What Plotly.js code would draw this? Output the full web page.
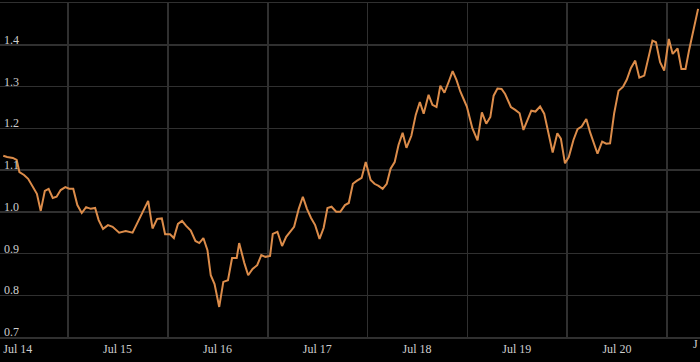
<!DOCTYPE html>
<html>
<head>
<meta charset="utf-8">
<script src="https://cdn.plot.ly/plotly-3.0.1.min.js"></script>
<style>html,body{margin:0;padding:0;background:#000;}#chart{width:700px;height:362px;}</style>
</head>
<body>
<div id="chart"></div>
<script>
const dates = [
"2014-05-09","2014-05-23","2014-06-13","2014-06-27","2014-07-07","2014-07-24","2014-08-08","2014-08-25","2014-09-09","2014-09-23",
"2014-10-08","2014-10-22","2014-11-06","2014-11-20","2014-12-05","2014-12-22",
"2015-01-05","2015-01-20","2015-02-04","2015-02-20","2015-03-08","2015-03-25","2015-04-10","2015-04-23","2015-05-09","2015-05-27",
"2015-06-13","2015-07-07","2015-07-31","2015-08-25","2015-09-08","2015-09-30","2015-10-21","2015-11-06","2015-11-23","2015-12-10","2015-12-22",
"2016-01-09","2016-01-23","2016-02-07","2016-02-22","2016-03-08","2016-03-25","2016-04-11","2016-04-25","2016-05-10","2016-05-25",
"2016-06-06","2016-06-20","2016-07-07","2016-07-22","2016-08-08","2016-08-23","2016-09-09","2016-09-18","2016-10-07","2016-10-21",
"2016-11-06","2016-11-23","2016-12-08","2016-12-23",
"2017-01-09","2017-01-19","2017-02-05","2017-02-22","2017-03-09","2017-03-24","2017-04-07","2017-04-24","2017-05-09","2017-05-24",
"2017-06-08","2017-06-23","2017-07-09","2017-07-24","2017-08-07","2017-08-22","2017-09-08","2017-09-23","2017-10-10","2017-10-24",
"2017-11-08","2017-11-22","2017-12-10","2017-12-25",
"2018-01-12","2018-01-26","2018-02-10","2018-02-25","2018-03-12","2018-03-26","2018-04-10","2018-04-24","2018-05-09","2018-05-23",
"2018-06-10","2018-06-26","2018-07-11","2018-07-25","2018-08-12","2018-08-26","2018-09-10","2018-09-24","2018-10-09","2018-10-25",
"2018-11-08","2018-11-22","2018-12-06","2018-12-18","2018-12-30",
"2019-01-19","2019-02-07","2019-02-23","2019-03-11","2019-03-26","2019-04-07","2019-04-21","2019-05-06","2019-05-19","2019-05-28",
"2019-06-09","2019-06-25","2019-07-11","2019-07-25","2019-08-09","2019-08-23","2019-09-07","2019-09-24","2019-10-09","2019-10-24",
"2019-11-09","2019-11-26","2019-12-09","2019-12-24",
"2020-01-07","2020-01-24","2020-02-08","2020-02-23","2020-03-11","2020-03-25","2020-04-07","2020-04-21","2020-05-08","2020-05-23",
"2020-06-06","2020-06-21","2020-07-07","2020-07-23","2020-08-06","2020-08-21","2020-09-06","2020-09-21","2020-10-09","2020-10-24",
"2020-11-08","2020-11-21","2020-12-06","2020-12-21",
"2021-01-07","2021-01-21","2021-02-08","2021-02-22","2021-03-09","2021-03-23","2021-04-07","2021-04-24"
];
const values = [
1.134,1.131,1.129,1.124,1.095,1.088,1.079,1.060,1.043,1.002,
1.050,1.055,1.033,1.036,1.052,1.059,
1.055,1.055,1.016,0.997,1.011,1.007,1.009,0.980,0.959,0.968,
0.964,0.950,0.954,0.950,0.968,0.997,1.026,0.960,0.983,0.984,0.946,
0.946,0.937,0.971,0.978,0.966,0.955,0.930,0.925,0.937,0.908,
0.848,0.827,0.772,0.832,0.836,0.889,0.889,0.925,0.877,0.848,
0.863,0.872,0.896,0.892,
0.894,0.947,0.952,0.918,0.940,0.952,0.964,1.007,1.036,1.007,
0.985,0.968,0.935,0.961,1.009,1.012,1.000,1.000,1.016,1.021,
1.067,1.074,1.081,1.119,
1.076,1.067,1.062,1.055,1.067,1.103,1.119,1.160,1.189,1.153,
1.182,1.232,1.263,1.235,1.280,1.256,1.251,1.302,1.285,1.312,
1.337,1.316,1.288,1.270,1.252,
1.200,1.171,1.238,1.211,1.227,1.278,1.295,1.294,1.282,1.268,
1.251,1.244,1.236,1.196,1.222,1.242,1.240,1.252,1.235,1.188,
1.142,1.188,1.175,1.116,
1.131,1.172,1.198,1.204,1.222,1.190,1.165,1.139,1.168,1.163,
1.164,1.236,1.290,1.299,1.316,1.344,1.362,1.321,1.326,1.366,
1.410,1.406,1.358,1.338,
1.414,1.378,1.391,1.342,1.342,1.390,1.436,1.486
];
const xTickVals = ["2014-07-01","2015-07-01","2016-07-01","2017-07-01","2018-07-01","2019-07-01","2020-07-01"];
const xTickText = ["Jul 14","Jul 15","Jul 16","Jul 17","Jul 18","Jul 19","Jul 20"];
const yTickVals = [0.7,0.8,0.9,1.0,1.1,1.2,1.3,1.4];
const yTickText = ["0.7","0.8","0.9","1.0","1.1","1.2","1.3","1.4"];
const yRange = [0.7, 1.5];

const gridColor = "#303030";
const fontFam = "Liberation Serif, serif";
const labelFont = {family: fontFam, size: 12, color: "#cfcfcf"};

Plotly.newPlot("chart", [
  {x: dates, y: values, type: "scatter", mode: "lines",
   line: {color: "#dc8c4a", width: 2}, hoverinfo: "skip"},
  {x: [], y: [], type: "scatter", mode: "lines", yaxis: "y2", hoverinfo: "skip", showlegend: false}
], {
  width: 700, height: 362,
  margin: {l: 0, r: 0, t: 3, b: 25, pad: 0},
  paper_bgcolor: "#000", plot_bgcolor: "#000",
  showlegend: false,
  font: labelFont,
  xaxis: {
    type: "date", range: ["2014-04-27", "2021-05-01"],
    tickmode: "array", tickvals: xTickVals, ticktext: xTickText,
    showgrid: false, zeroline: false, ticks: "",
    showline: true, mirror: true, linecolor: gridColor, linewidth: 1.5,
    minor: {tick0: "2015-01-01", dtick: "M12", showgrid: true, gridcolor: gridColor, gridwidth: 1.5, ticks: ""},
    tickfont: labelFont
  },
  yaxis: {
    range: yRange, tickmode: "array", tickvals: yTickVals,
    showgrid: true, gridcolor: gridColor, gridwidth: 1.5, zeroline: false,
    ticks: "", showline: false, showticklabels: false
  },
  yaxis2: {
    overlaying: "y", side: "right", anchor: "free", position: 0,
    range: yRange, tickmode: "array", tickvals: yTickVals, ticktext: yTickText,
    showgrid: false, zeroline: false, ticks: "", showline: false,
    ticklabelshift: -5, ticklabelstandoff: 3,
    tickfont: labelFont
  },
  annotations: [{
    xref: "paper", yref: "paper", x: 1, y: 0, xanchor: "right", yanchor: "top",
    xshift: 0, yshift: 2, text: "J", showarrow: false,
    font: labelFont
  }]
}, {staticPlot: true});
</script>
</body>
</html>
